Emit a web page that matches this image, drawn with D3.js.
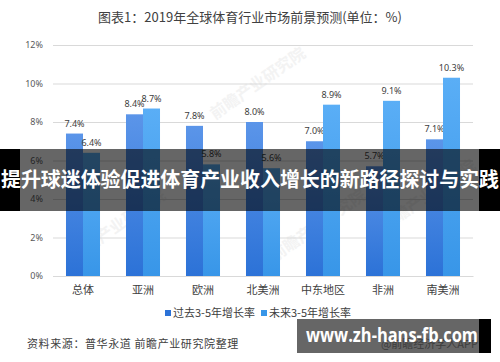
<!DOCTYPE html>
<html>
<head>
<meta charset="utf-8">
<script src="https://cdn.jsdelivr.net/npm/d3@7"></script>
<style>
  body { margin: 0; background: #fff; }
  svg { display: block; font-family: "Noto Sans CJK SC", "Noto Sans", sans-serif; }
</style>
</head>
<body>
<svg id="chart" width="500" height="362"></svg>
<script>
const categories = ['总体', '亚洲', '欧洲', '北美洲', '中东地区', '非洲', '南美洲'];
const pastGrowth = [7.4, 8.4, 7.8, 8.0, 7.0, 5.7, 7.1];
const futureGrowth = [6.4, 8.7, 5.8, 5.6, 8.9, 9.1, 10.3];
const seriesNames = ['过去3-5年增长率', '未来3-5年增长率'];
const yTicks = [0, 2, 4, 6, 8, 10, 12];

const svg = d3.select('#chart');
const margin = { top: 45, bottom: 86, left: 53, right: 27 };
const width = 500, height = 362;

const xScale = d3.scaleBand()
    .domain(categories)
    .range([margin.left, width - margin.right])
    .paddingInner(0.433)
    .paddingOuter(0.2165);
const sub = d3.scaleBand()
    .domain([0, 1])
    .range([0, xScale.bandwidth()]);
const yScale = d3.scaleLinear()
    .domain([0, 12])
    .range([height - margin.bottom, margin.top]);

// gradients for the bars
const defs = svg.append('defs');
const grads = [['#5b95e9', '#2c72d7'], ['#5aaef6', '#3896e8']];
grads.forEach((c, i) => {
    const lg = defs.append('linearGradient').attr('id', 'g' + i)
        .attr('x1', 0).attr('y1', 0).attr('x2', 0).attr('y2', 1);
    lg.append('stop').attr('offset', '0%').attr('stop-color', c[0]);
    lg.append('stop').attr('offset', '100%').attr('stop-color', c[1]);
});

// title
svg.append('text')
    .attr('x', 250).attr('y', 22)
    .attr('text-anchor', 'middle')
    .style('font-size', '13px').style('fill', '#404040')
    .text('图表1：2019年全球体育行业市场前景预测(单位：%)');

// faint watermarks (behind everything)
const wm = [[215, 120], [75, 262], [275, 262], [385, 232]];
wm.forEach(p => {
    svg.append('text')
        .attr('transform', `translate(${p[0]},${p[1]}) rotate(-35)`)
        .style('font-size', '16px').style('font-weight', 'bold')
        .style('fill', '#f3f3f3')
        .text('前瞻产业研究院');
});

// grid + y axis
const yAxis = d3.axisLeft(yScale)
    .tickValues(yTicks)
    .tickFormat(d => d + '%')
    .tickSize(-(width - margin.left - margin.right))
    .tickPadding(10);
const gy = svg.append('g')
    .attr('transform', `translate(${margin.left},0)`)
    .call(yAxis);
gy.select('.domain').remove();
gy.selectAll('.tick line').attr('stroke', '#d9d9d9');
gy.selectAll('.tick text')
    .style('font-size', '9px').style('fill', '#595959')
    .style('font-family', '"Noto Sans", sans-serif');

// bars
const series = [pastGrowth, futureGrowth];
series.forEach((vals, si) => {
    svg.append('g').selectAll('rect')
        .data(vals)
        .enter()
        .append('rect')
        .attr('x', (d, i) => xScale(categories[i]) + sub(si))
        .attr('width', sub.bandwidth())
        .attr('y', d => yScale(d))
        .attr('height', d => yScale(0) - yScale(d))
        .style('fill', `url(#g${si})`);
    svg.append('g').selectAll('text')
        .data(vals)
        .enter()
        .append('text')
        .attr('x', (d, i) => xScale(categories[i]) + sub(si) + sub.bandwidth() / 2)
        .attr('y', d => yScale(d) - 7)
        .attr('text-anchor', 'middle')
        .style('font-size', '9px').style('fill', '#404040')
        .style('font-family', '"Noto Sans", sans-serif')
        .text(d => d.toFixed(1) + '%');
});

// x axis
const xAxis = d3.axisBottom(xScale).tickSize(0).tickPadding(10);
const gx = svg.append('g')
    .attr('transform', `translate(0,${yScale(0)})`)
    .call(xAxis);
gx.select('.domain').attr('stroke', '#d9d9d9');
gx.selectAll('text').style('font-size', '11px').style('fill', '#404040')
    .style('font-family', '"Noto Sans CJK SC", sans-serif');

// legend
const legendX = [165, 261];
seriesNames.forEach((name, i) => {
    const lg = svg.append('g').attr('transform', `translate(${legendX[i]},313)`);
    lg.append('rect').attr('x', 0).attr('y', -3).attr('width', 6).attr('height', 6)
        .style('fill', grads[i][1]);
    lg.append('text').attr('x', 8).attr('y', 4)
        .style('font-size', '11px').style('fill', '#404040')
        .text(name);
});

// source
svg.append('text')
    .attr('x', 27).attr('y', 348)
    .style('font-size', '11px').style('fill', '#404040')
    .style('letter-spacing', '0.6px')
    .text('资料来源：普华永道 前瞻产业研究院整理');

// overlay banner
svg.append('rect').attr('x', 0).attr('y', 149).attr('width', 500).attr('height', 62)
    .style('fill', 'rgba(0,0,0,0.6)');
svg.append('rect').attr('x', 0).attr('y', 149).attr('width', 20).attr('height', 62)
    .style('fill', '#000');
svg.append('rect').attr('x', 479).attr('y', 149).attr('width', 21).attr('height', 62)
    .style('fill', '#000');
svg.append('text')
    .attr('x', 250).attr('y', 187)
    .attr('text-anchor', 'middle')
    .attr('textLength', 498).attr('lengthAdjust', 'spacingAndGlyphs')
    .style('font-size', '20px').style('font-weight', 'bold').style('fill', '#fff')
    .text('提升球迷体验促进体育产业收入增长的新路径探讨与实践');

// bottom-right site box
svg.append('text')
    .attr('x', 478).attr('y', 348)
    .attr('text-anchor', 'end')
    .style('font-size', '11px').style('fill', '#999')
    .text('@前瞻经济学人APP');
svg.append('rect').attr('x', 297).attr('y', 319).attr('width', 182).attr('height', 34)
    .style('fill', 'rgba(0,0,0,0.6)');
svg.append('rect').attr('x', 479).attr('y', 319).attr('width', 12).attr('height', 34)
    .style('fill', '#000');
svg.append('text')
    .attr('x', 306).attr('y', 342)
    .attr('textLength', 172).attr('lengthAdjust', 'spacingAndGlyphs')
    .style('font-size', '20px').style('font-weight', 'bold').style('fill', '#fff')
    .style('font-family', '"Open Sans", "DejaVu Sans", sans-serif')
    .text('www.zh-hans-fb.com');
</script>
</body>
</html>
